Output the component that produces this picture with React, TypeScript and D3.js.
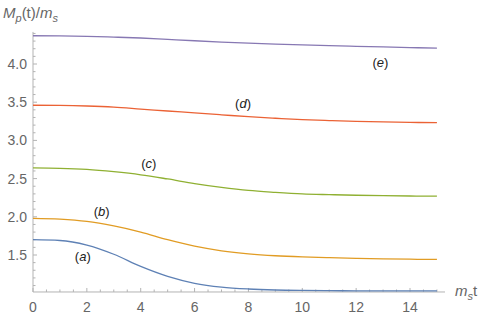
import React from 'react';
import * as d3 from 'd3';

// sample times (m_s t)
const times = [0, 1, 2, 3, 4, 5, 6, 7, 8, 9, 10, 11, 12, 13, 14, 15];

// M_p(t)/m_s, one array per curve
const seriesA = [1.70, 1.69, 1.63, 1.51, 1.35, 1.22, 1.13, 1.08, 1.055, 1.042, 1.036, 1.033, 1.031, 1.03, 1.03, 1.03];
const seriesB = [1.98, 1.97, 1.94, 1.88, 1.80, 1.70, 1.615, 1.555, 1.515, 1.49, 1.475, 1.465, 1.457, 1.45, 1.445, 1.442];
const seriesC = [2.64, 2.635, 2.62, 2.59, 2.55, 2.495, 2.435, 2.385, 2.345, 2.32, 2.30, 2.29, 2.282, 2.276, 2.272, 2.27];
const seriesD = [3.46, 3.458, 3.45, 3.435, 3.41, 3.385, 3.36, 3.335, 3.31, 3.29, 3.272, 3.26, 3.25, 3.242, 3.236, 3.232];
const seriesE = [4.37, 4.368, 4.362, 4.352, 4.34, 4.322, 4.304, 4.287, 4.272, 4.26, 4.25, 4.24, 4.232, 4.223, 4.215, 4.208];

const curveNames = ['(a)', '(b)', '(c)', '(d)', '(e)'];
const curveColors = ['#5E81B5', '#E19C24', '#8FB032', '#EB6235', '#8778B3'];
// where each curve label sits, in data units [t, value]
const labelT = [1.85, 2.55, 4.3, 7.8, 12.9];
const labelV = [1.415, 2.015, 2.64, 3.425, 3.96];

const xTicks = [0, 2, 4, 6, 8, 10, 12, 14];
const yTicks = [1.5, 2.0, 2.5, 3.0, 3.5, 4.0];

export default function App() {
  const width = 485;
  const height = 318;
  const all = [seriesA, seriesB, seriesC, seriesD, seriesE];

  const x = d3.scaleLinear().domain([0, 14]).range([33, 410]);
  const y = d3.scaleLinear().domain([1.5, 4.0]).range([255, 64]);

  const xAxisY = y(1.016);
  const xEnd = x(15.3);
  const yTop = y(4.42);

  const line = d3.line<number>()
    .x((d, i) => x(times[i]))
    .y(d => y(d))
    .curve(d3.curveMonotoneX);

  const xMinor = d3.range(0.5, 15.01, 0.5).filter(t => t % 2 !== 0);
  const yMinor = d3.range(1.1, 4.41, 0.1).filter(v => Math.abs(v * 2 - Math.round(v * 2)) > 0.01);

  const axisColor = '#b3b3b3';
  const tickText = '#666666';
  const font = 'Liberation Sans, Arial, sans-serif';

  return (
    <svg width={width} height={height} style={{position: 'absolute', left: 0, top: 0, background: '#fff'}}
      fontFamily={font}>
      {/* axes */}
      <line x1={x(0)} x2={xEnd} y1={xAxisY} y2={xAxisY} stroke={axisColor} strokeWidth={1} />
      <line x1={x(0)} x2={x(0)} y1={yTop} y2={xAxisY} stroke={axisColor} strokeWidth={1} />

      {xTicks.map(t => (
        <g key={'xt' + t}>
          <line x1={x(t)} x2={x(t)} y1={xAxisY} y2={xAxisY - 4} stroke={axisColor} />
          <text x={x(t)} y={xAxisY + 20} textAnchor="middle" fontSize={14} fill={tickText}>{t}</text>
        </g>
      ))}
      {xMinor.map(t => (
        <line key={'xm' + t} x1={x(t)} x2={x(t)} y1={xAxisY} y2={xAxisY - 2.5} stroke={axisColor} />
      ))}

      {yTicks.map(v => (
        <g key={'yt' + v}>
          <line x1={x(0)} x2={x(0) + 4} y1={y(v)} y2={y(v)} stroke={axisColor} />
          <text x={x(0) - 6} y={y(v) + 5} textAnchor="end" fontSize={14} fill={tickText}>{v.toFixed(1)}</text>
        </g>
      ))}
      {yMinor.map(v => (
        <line key={'ym' + v} x1={x(0)} x2={x(0) + 2.5} y1={y(v)} y2={y(v)} stroke={axisColor} />
      ))}

      {/* curves */}
      {all.map((s, i) => (
        <path key={'c' + i} d={line(s) || ''} fill="none" stroke={curveColors[i]} strokeWidth={1.3} />
      ))}

      {/* curve labels */}
      {curveNames.map((n, i) => (
        <text key={'l' + i} x={x(labelT[i])} y={y(labelV[i])} textAnchor="middle" fontSize={13} fill="#222">
          (<tspan fontStyle="italic">{n.slice(1, 2)}</tspan>)
        </text>
      ))}

      {/* axis titles */}
      <text x={3} y={18} fontSize={15} fill={tickText}>
        <tspan fontStyle="italic">M</tspan>
        <tspan fontStyle="italic" fontSize={11} dy={4}>p</tspan>
        <tspan dy={-4}>(t)/</tspan>
        <tspan fontStyle="italic">m</tspan>
        <tspan fontStyle="italic" fontSize={11} dy={4}>s</tspan>
      </text>
      <text x={455} y={xAxisY + 4} fontSize={15} fill={tickText}>
        <tspan fontStyle="italic">m</tspan>
        <tspan fontStyle="italic" fontSize={11} dy={4}>s</tspan>
        <tspan dy={-4}>t</tspan>
      </text>
    </svg>
  );
}
